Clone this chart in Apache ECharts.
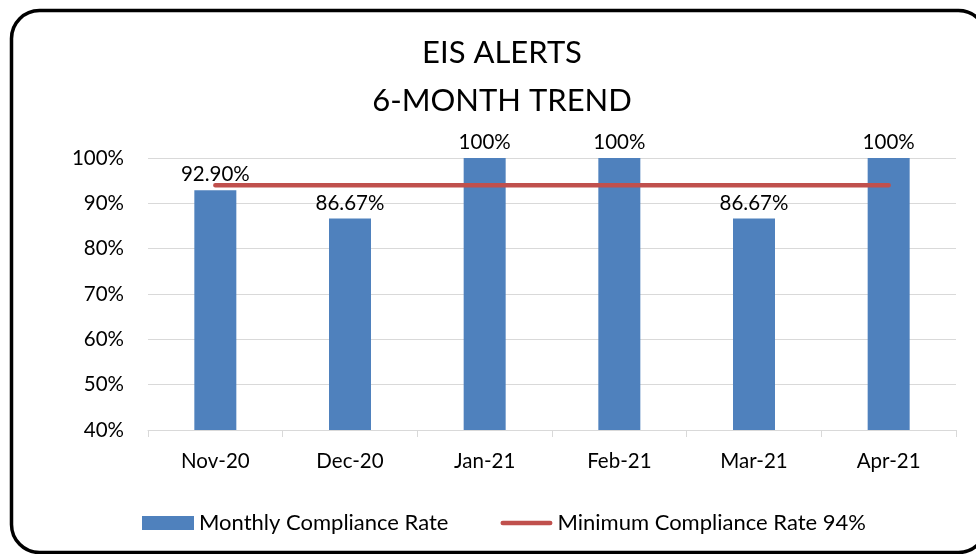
<!DOCTYPE html>
<html>
<head>
<meta charset="utf-8">
<style>
html,body{margin:0;padding:0;background:#fff;}
#chart{width:976px;height:554px;}
</style>
<script src="https://cdn.jsdelivr.net/npm/echarts@6/dist/echarts.min.js"></script>
</head>
<body>
<div id="chart"></div>
<script>
var categories = ['Nov-20', 'Dec-20', 'Jan-21', 'Feb-21', 'Mar-21', 'Apr-21'];
var monthlyRate = [92.9, 86.67, 100, 100, 86.67, 100];
var monthlyLabels = ['92.90%', '86.67%', '100%', '100%', '86.67%', '100%'];
var minimumRate = [94, 94, 94, 94, 94, 94];
var yTicks = { min: 40, max: 100, interval: 10 };
var titleLines = ['EIS ALERTS', '6-MONTH TREND'];

var FONT = 'Lato';
var FS = 20.5;
var chart = echarts.init(document.getElementById('chart'));
chart.setOption({
  animation: false,
  textStyle: { fontFamily: FONT },
  title: {
    text: titleLines.join('\n'),
    left: 497, textAlign: 'center', top: 24,
    textStyle: { fontFamily: FONT, fontSize: 31, fontWeight: 'normal', color: '#000', lineHeight: 48 }
  },
  graphic: [{
    type: 'rect', silent: true,
    shape: { x: 11.5, y: 10.5, width: 975, height: 542, r: 28 },
    style: { fill: 'none', stroke: '#000', lineWidth: 3.5 }
  }],
  legend: {
    top: 507, left: 137,
    itemWidth: 52, itemHeight: 14, itemGap: 52,
    symbolKeepAspect: true,
    textStyle: { fontFamily: FONT, fontSize: 22, color: '#000' },
    data: [
      { name: 'Monthly Compliance Rate', icon: 'rect' },
      { name: 'Minimum Compliance Rate 94%',
        icon: 'path://M2.5,0 L53.5,0 A2.5,2.5 0 0 1 53.5,5 L2.5,5 A2.5,2.5 0 0 1 2.5,0 Z' }
    ]
  },
  grid: { left: 148, right: 20, top: 158, bottom: 124 },
  xAxis: {
    type: 'category', data: categories, boundaryGap: true,
    axisLine: { lineStyle: { color: '#d9d9d9', width: 1 } },
    axisTick: { show: true, length: 7, lineStyle: { color: '#d9d9d9' } },
    axisLabel: { color: '#000', fontSize: FS, margin: 21, fontFamily: FONT }
  },
  yAxis: {
    type: 'value', min: yTicks.min, max: yTicks.max, interval: yTicks.interval,
    axisLine: { show: false }, axisTick: { show: false },
    splitLine: { lineStyle: { color: '#d9d9d9', width: 1 } },
    axisLabel: { color: '#000', fontSize: FS, margin: 24, fontFamily: FONT,
      formatter: function (v) { return v + '%'; } }
  },
  series: [{
    name: 'Monthly Compliance Rate', type: 'bar', data: monthlyRate,
    barWidth: 42,
    itemStyle: { color: '#4F81BD' },
    label: { show: true, position: 'top', distance: 5, color: '#000', fontSize: FS, fontFamily: FONT,
      formatter: function (p) { return monthlyLabels[p.dataIndex]; } }
  }, {
    name: 'Minimum Compliance Rate 94%', type: 'line', data: minimumRate,
    symbol: 'none', showSymbol: false,
    lineStyle: { color: '#C0504D', width: 4.5, cap: 'round' },
    itemStyle: { color: '#C0504D' }
  }]
});
</script>
</body>
</html>
